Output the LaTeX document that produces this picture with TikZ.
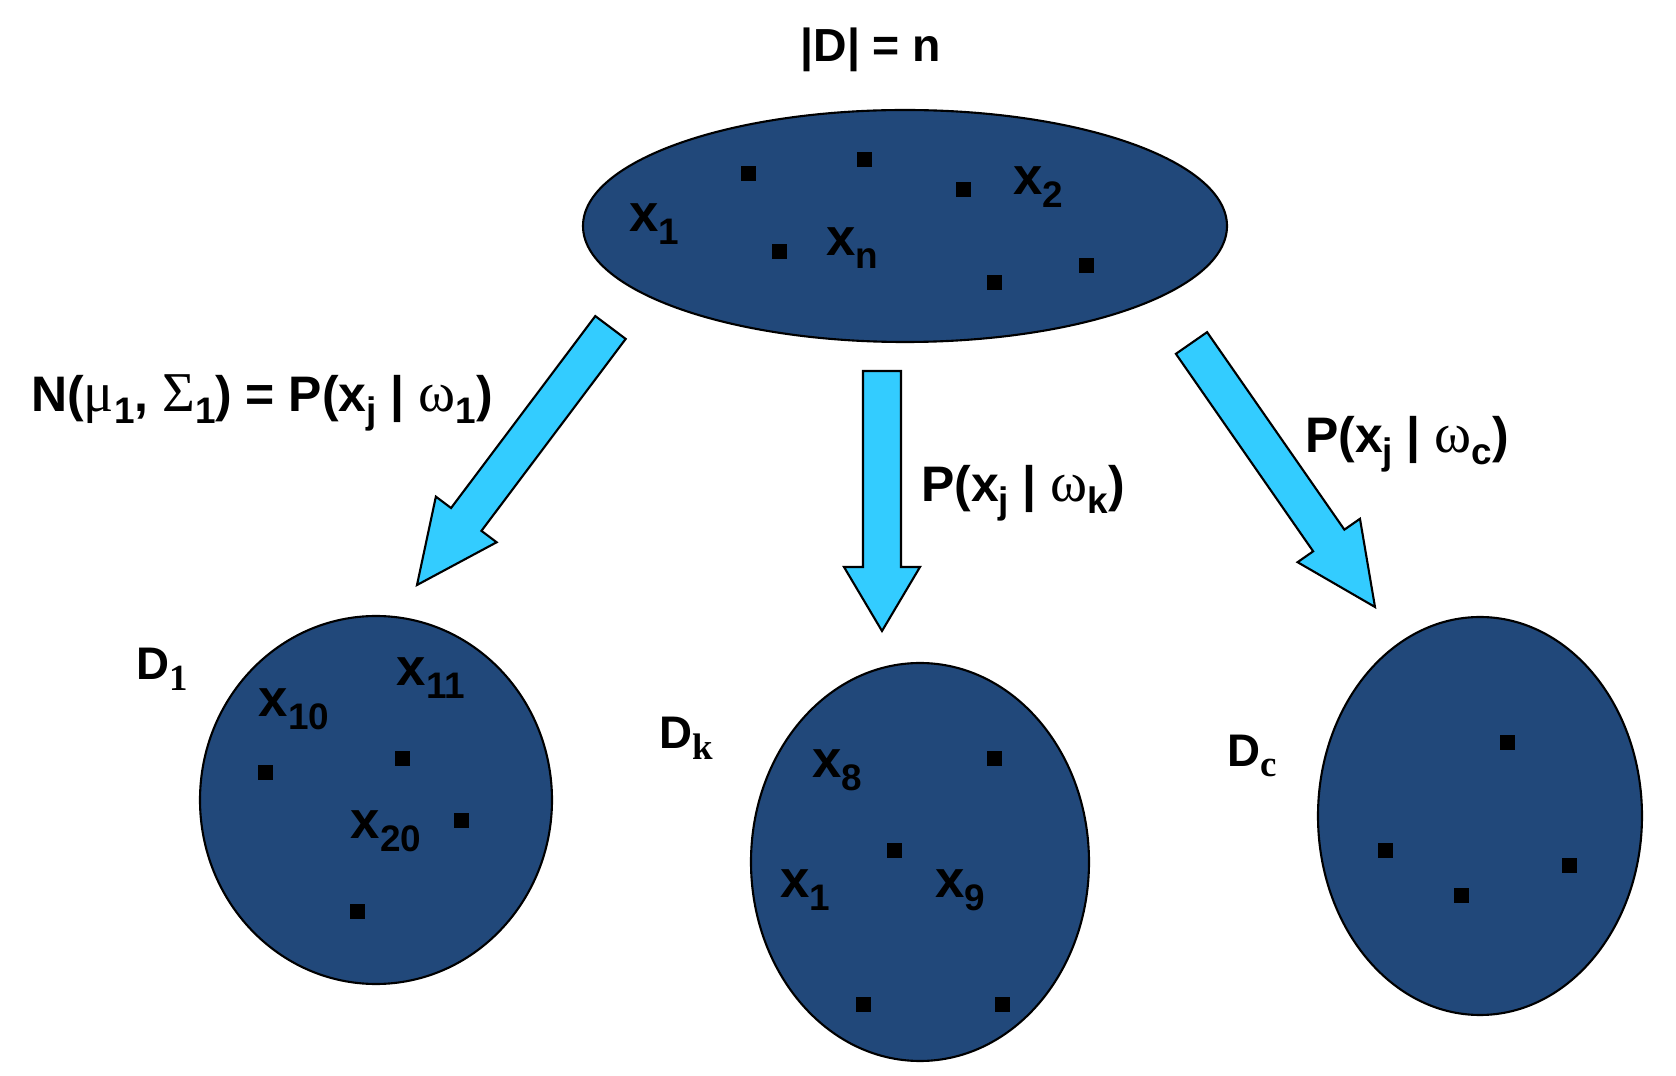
\documentclass[tikz,border=0pt]{standalone}
\usepackage{fontspec}
\setmainfont{Liberation Sans}
\newfontfamily\grkfont{Liberation Serif}
\usetikzlibrary{calc, positioning, shapes.geometric}

\definecolor{setblue}{RGB}{33,72,122}
\definecolor{arrowblue}{RGB}{51,204,255}

% subscripts: sans for the labels, serif for the set names
\newcommand{\lo}[1]{\raisebox{-0.45ex}{\fontsize{10.5}{10}\selectfont #1}}
\newcommand{\los}[1]{\raisebox{-0.45ex}{\fontsize{10.5}{10}\selectfont\grkfont #1}}
\newcommand{\gk}[1]{{\fontsize{16}{16}\selectfont\grkfont\mdseries #1}}

% block arrow from tail #1 to tip #2, head length #3
\newcommand{\blockarrow}[3]{%
  \coordinate (hb) at ($(#2)!#3!(#1)$);
  \draw[barrow] ($(#1)!0.19cm!90:(#2)$) -- ($(hb)!0.19cm!90:(#2)$)
    -- ($(hb)!0.38cm!90:(#2)$) -- (#2) -- ($(hb)!0.38cm!-90:(#2)$)
    -- ($(hb)!0.19cm!-90:(#2)$) -- ($(#1)!0.19cm!-90:(#2)$) -- cycle;
}

\begin{document}
\begin{tikzpicture}[
    set/.style={draw=black, fill=setblue, ellipse, inner sep=0pt, line width=0.6pt},
    pt/.style={fill=black, minimum size=0.15cm, inner sep=0pt},
    barrow/.style={draw=black, fill=arrowblue, line width=0.6pt, line join=miter},
    lbl/.style={font=\fontsize{14.2}{16}\selectfont\bfseries, inner sep=0pt},
    ptlbl/.style={font=\fontsize{15}{16}\selectfont\bfseries, inner sep=0pt},
    setlbl/.style={font=\fontsize{13}{14}\selectfont\bfseries, inner sep=0pt},
]
\useasboundingbox (0,0) rectangle (16.76,10.76);
% ============================================================
% whole data set D
% ============================================================
\node[lbl, font=\fontsize{13.2}{15}\selectfont\bfseries] (card) at (8.71,10.26) {|D| = n};
\node[set, minimum width=6.44cm, minimum height=2.32cm] (D) at (9.05,8.50) {};
\foreach \x/\y in {7.48/9.02, 8.64/9.16, 9.63/8.86, 7.79/8.24, 9.94/7.93, 10.86/8.10} {
    \node[pt] at (\x,\y) {};
}
\node[ptlbl] (dx1) at (6.54,8.52) {x\lo{1}};
\node[ptlbl] (dx2) at (10.38,8.89) {x\lo{2}};
\node[ptlbl] (dxn) at (8.52,8.28) {x\lo{n}};
% ============================================================
% subsets D_1, D_k, D_c
% ============================================================
% --- D_1 ---
\node[set, minimum width=3.52cm, minimum height=3.68cm] (D1) at (3.76,2.76) {};
\node[setlbl] (D1name) at (1.62,4.07) {D\los{1}};
\foreach \x/\y in {2.65/3.03, 4.02/3.17, 4.61/2.55, 3.57/1.64} {
    \node[pt] at (\x,\y) {};
}
\node[ptlbl] (x10) at (2.94,3.67) {x\lo{10}};
\node[ptlbl] (x11) at (4.31,3.98) {x\lo{11}};
\node[ptlbl] (x20) at (3.86,2.45) {x\lo{20}};
% --- D_k ---
\node[set, minimum width=3.38cm, minimum height=3.98cm] (Dk) at (9.20,2.14) {};
\node[setlbl] (Dkname) at (6.86,3.38) {D\los{k}};
\foreach \x/\y in {9.94/3.17, 8.94/2.25, 8.63/0.71, 10.02/0.71} {
    \node[pt] at (\x,\y) {};
}
\node[ptlbl] (x8) at (8.37,3.06) {x\lo{8}};
\node[ptlbl] (x1) at (8.05,1.86) {x\lo{1}};
\node[ptlbl] (x9) at (9.60,1.86) {x\lo{9}};
% --- D_c ---
\node[set, minimum width=3.24cm, minimum height=3.98cm] (Dc) at (14.80,2.60) {};
\node[setlbl] (Dcname) at (12.52,3.20) {D\los{c}};
\foreach \x/\y in {15.07/3.33, 13.85/2.25, 14.61/1.80, 15.69/2.10} {
    \node[pt] at (\x,\y) {};
}
% ============================================================
% class-conditional arrows
% ============================================================
\coordinate (a1tail) at (6.105,7.485);
\coordinate (a1tip)  at (4.17,4.91);
\coordinate (aktail) at (8.82,7.05);
\coordinate (aktip)  at (8.82,4.45);
\coordinate (actail) at (11.915,7.33);
\coordinate (actip)  at (13.75,4.69);
\blockarrow{a1tail}{a1tip}{0.82cm}
\blockarrow{aktail}{aktip}{0.64cm}
\blockarrow{actail}{actip}{0.81cm}
\node[lbl] (p1) at (2.62,6.73) {N(\gk{μ}\lo{1}, \gk{Σ}\lo{1}) = P(x\lo{j} | \gk{ω}\lo{1})};
\node[lbl] (pk) at (10.23,5.83) {P(x\lo{j} | \gk{ω}\lo{k})};
\node[lbl] (pc) at (14.07,6.32) {P(x\lo{j} | \gk{ω}\lo{c})};
\end{tikzpicture}
\end{document}
